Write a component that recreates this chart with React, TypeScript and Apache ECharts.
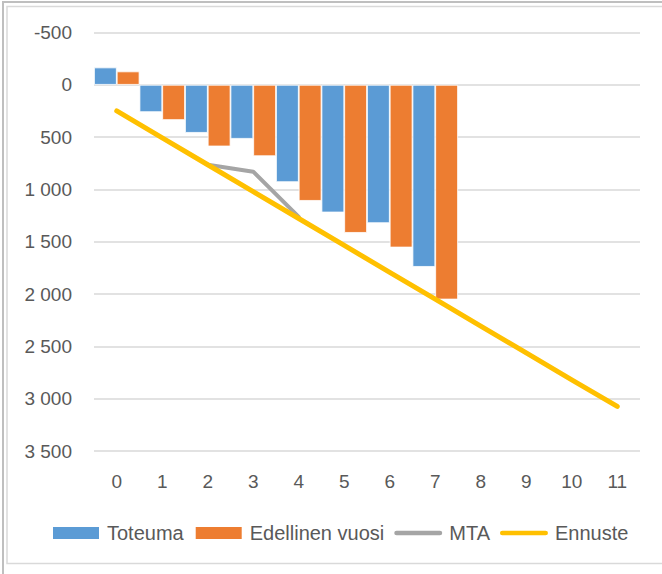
import React, { useEffect, useRef } from "react";
import * as echarts from "echarts";

const categories = ["0", "1", "2", "3", "4", "5", "6", "7", "8", "9", "10", "11"];
const toteuma = [-166, 261, 459, 516, 930, 1220, 1322, 1740, null, null, null, null];
const edellinenVuosi = [-128, 337, 589, 682, 1109, 1415, 1555, 2052, null, null, null, null];
const mta = [null, null, 765, 830, 1262, null, null, null, null, null, null, null];
const ennuste = [250, 507, 764, 1021, 1278, 1535, 1792, 2049, 2306, 2563, 2820, 3074];

const FONT = "'Liberation Sans', Arial, sans-serif";
const LINE_ICON = "path://M2.5,0 L48.5,0 A2.5,2.5 0 0 1 48.5,5 L2.5,5 A2.5,2.5 0 0 1 2.5,0 Z";

export default function App() {
  const ref = useRef<HTMLDivElement>(null);
  useEffect(() => {
    if (!ref.current) return;
    const chart = echarts.init(ref.current, null, { renderer: "svg" });
    chart.setOption({
      animation: false,
      backgroundColor: "#ffffff",
      textStyle: { fontFamily: FONT },
      graphic: [
        {
          type: "rect",
          shape: { x: 3, y: 2, width: 670, height: 580 },
          style: { fill: "none", stroke: "#bfbfbf", lineWidth: 2 },
          silent: true,
        },
        {
          type: "rect",
          shape: { x: 7, y: 6.5, width: 670, height: 557 },
          style: { fill: "none", stroke: "#d9d9d9", lineWidth: 1.5 },
          silent: true,
        },
      ],
      grid: { left: 94, right: 22, top: 32.5, bottom: 123, containLabel: false },
      legend: {
        left: 51,
        top: 523,
        padding: 0,
        itemWidth: 48,
        itemHeight: 14,
        itemGap: 10,
        symbolKeepAspect: true,
        textStyle: { fontSize: 20, color: "#595959", fontFamily: FONT, padding: [0, 0, 0, 2] },
        data: [
          { name: "Toteuma", icon: "rect" },
          { name: "Edellinen vuosi", icon: "rect" },
          { name: "MTA", icon: LINE_ICON, itemStyle: { color: "#A5A5A5" } },
          { name: "Ennuste", icon: LINE_ICON, itemStyle: { color: "#FFC000" } },
        ],
      },
      xAxis: {
        type: "category",
        data: categories,
        position: "bottom",
        axisLine: { show: false, onZero: false },
        axisTick: { show: false },
        axisLabel: { fontSize: 19, color: "#595959", margin: 21, fontFamily: FONT },
        splitLine: { show: false },
      },
      yAxis: {
        type: "value",
        inverse: true,
        min: -500,
        max: 3500,
        interval: 500,
        axisLine: { show: false },
        axisTick: { show: false },
        axisLabel: {
          fontSize: 19,
          color: "#595959",
          margin: 22,
          fontFamily: FONT,
          formatter: (v: number) => {
            const s = Math.abs(v).toString().replace(/\B(?=(\d{3})+(?!\d))/g, " ");
            return (v < 0 ? "-" : "") + s;
          },
        },
        splitLine: { lineStyle: { color: "#d9d9d9", width: 1.5 } },
      },
      series: [
        {
          name: "Toteuma",
          type: "bar",
          data: toteuma,
          barGap: "0%",
          barCategoryGap: "0%",
          itemStyle: { color: "#5B9BD5", borderColor: "#ffffff", borderWidth: 0.8 },
        },
        {
          name: "Edellinen vuosi",
          type: "bar",
          data: edellinenVuosi,
          barGap: "0%",
          barCategoryGap: "0%",
          itemStyle: { color: "#ED7D31", borderColor: "#ffffff", borderWidth: 0.8 },
        },
        {
          name: "MTA",
          type: "line",
          data: mta,
          symbol: "none",
          connectNulls: false,
          itemStyle: { color: "#A5A5A5" },
          lineStyle: { color: "#A5A5A5", width: 4, cap: "round", join: "round" },
          z: 3,
        },
        {
          name: "Ennuste",
          type: "line",
          data: ennuste,
          symbol: "none",
          itemStyle: { color: "#FFC000" },
          lineStyle: { color: "#FFC000", width: 5, cap: "round", join: "round" },
          z: 4,
        },
      ],
    });
    return () => chart.dispose();
  }, []);
  return (
    <div
      ref={ref}
      style={{ position: "absolute", left: 0, top: 0, width: 662, height: 574 }}
    />
  );
}
